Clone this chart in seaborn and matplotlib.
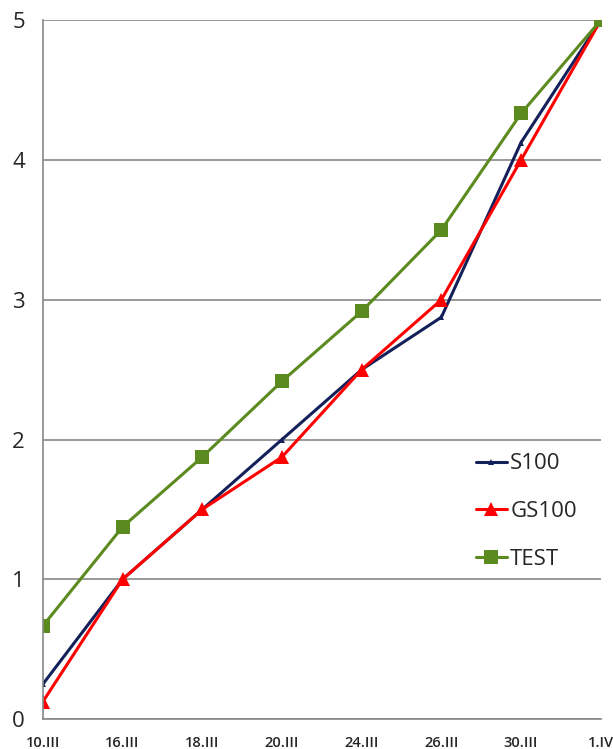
import matplotlib
matplotlib.use("Agg")
import matplotlib.pyplot as plt
import seaborn as sns
import pandas as pd

dates = ["10.III", "16.III", "18.III", "20.III", "24.III", "26.III", "30.III", "1.IV"]
s100 = [0.25, 1.0, 1.5, 2.0, 2.5, 2.875, 4.125, 5.0]
gs100 = [0.125, 1.0, 1.5, 1.875, 2.5, 3.0, 4.0, 5.0]
test = [0.667, 1.375, 1.875, 2.417, 2.917, 3.5, 4.333, 5.0]

sns.set_theme(style="white")
plt.rcParams['font.family'] = ['Open Sans', 'DejaVu Sans']

df = pd.DataFrame({
    "date": dates * 3,
    "value": s100 + gs100 + test,
    "series": ["S100"] * 8 + ["GS100"] * 8 + ["TEST"] * 8,
})

fig = plt.figure(figsize=(6.13, 7.49), dpi=100)
ax = fig.add_axes([0.070, 0.040, 0.910, 0.933])

palette = {"S100": "#14205a", "GS100": "#ff0000", "TEST": "#5b8a1f"}
markers = {"S100": "^", "GS100": "^", "TEST": "s"}
sizes = {"S100": 4, "GS100": 10, "TEST": 10}
for name in ["S100", "GS100", "TEST"]:
    sub = df[df.series == name]
    sns.lineplot(data=sub, x="date", y="value", ax=ax, color=palette[name],
                 marker=markers[name], markersize=sizes[name], markeredgewidth=0,
                 linewidth=2.2, sort=False, label=name)

ax.set_xlim(0, 7)
ax.set_ylim(0, 5)
ax.set_yticks([0, 1, 2, 3, 4, 5])
ax.yaxis.grid(True, color="#888888", linewidth=1.2)
ax.xaxis.grid(False)
for side in ["top", "right"]:
    ax.spines[side].set_visible(False)
for side in ["left", "bottom"]:
    ax.spines[side].set_color("#888888")
    ax.spines[side].set_linewidth(1.2)
ax.tick_params(axis="y", direction="out", length=7, color="#888888", width=1.2, labelsize=16, pad=6)
ax.tick_params(axis="x", direction="out", length=6, color="#888888", width=1.2, labelsize=10.5, pad=6)
ax.set_xlabel("")
ax.set_ylabel("")
for t in ax.get_xticklabels():
    t.set_fontweight("semibold")

leg = ax.legend(loc="center left", bbox_to_anchor=(0.76, 0.297), frameon=False,
                fontsize=16, handlelength=1.4, handletextpad=0.15, labelspacing=1.2,
                borderaxespad=0)

fig.savefig("out.png", dpi=100)
